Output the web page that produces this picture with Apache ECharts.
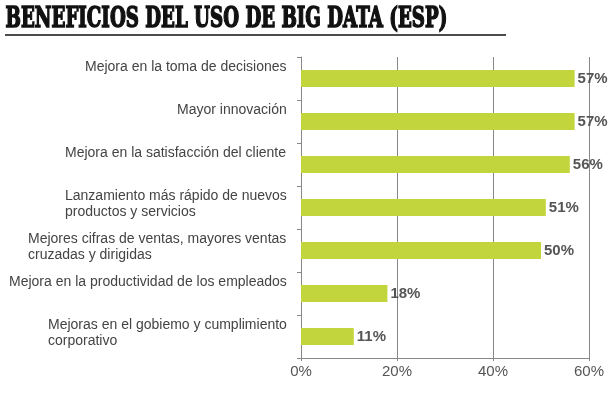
<!DOCTYPE html>
<html><head><meta charset="utf-8">
<script src="https://cdn.jsdelivr.net/npm/echarts@6/dist/echarts.min.js"></script>
<style>html,body{margin:0;padding:0;background:#fff}#c{width:614px;height:395px}</style>
</head><body><div id="c"></div>
<script>
const titleText = 'BENEFICIOS DEL USO DE BIG DATA (ESP)';
const categories = [
  'Mejora en la toma de decisiones',
  'Mayor innovación',
  'Mejora en la satisfacción del cliente',
  'Lanzamiento más rápido de nuevos\nproductos y servicios',
  'Mejores cifras de ventas, mayores ventas\ncruzadas y dirigidas',
  'Mejora en la productividad de los empleados',
  'Mejoras en el gobiemo y cumplimiento\ncorporativo'
];
const values = [57, 57, 56, 51, 50, 18, 11];
const xTicks = [0, 20, 40, 60];

const labelFont = '14px "Liberation Sans", Arial';
const ctx = document.createElement('canvas').getContext('2d');
ctx.font = labelFont;
const rich = {};
categories.forEach((c, i) => {
  const w = Math.max(...c.split('\n').map(s => ctx.measureText(s).width));
  rich['w' + i] = {width: Math.ceil(w) + 1, align: 'left', color: '#444', fontSize: 14,
    fontFamily: 'Liberation Sans, Arial', lineHeight: 16};
});

const chart = echarts.init(document.getElementById('c'), null, {renderer: 'canvas'});
chart.setOption({
  animation: false,
  graphic: [
    {type: 'text', left: 5, top: 6, scaleX: 0.675,
      style: {text: titleText, font: 'bold 27px "DejaVu Serif"', fill: '#111', stroke: '#111', lineWidth: 1.6}},
    {type: 'line', shape: {x1: 5, y1: 35, x2: 506, y2: 35}, style: {stroke: '#111', lineWidth: 1.5}}
  ],
  grid: {left: 301, right: 25, top: 57, bottom: 37},
  xAxis: {
    type: 'value', min: xTicks[0], max: xTicks[xTicks.length - 1], interval: 20,
    axisLine: {show: true, lineStyle: {color: '#888'}},
    axisTick: {show: true, length: 3, lineStyle: {color: '#888'}},
    splitLine: {show: true, lineStyle: {color: '#888', width: 1}},
    axisLabel: {formatter: '{value}%', color: '#555', fontSize: 15, fontFamily: 'Liberation Sans, Arial', margin: 6}
  },
  yAxis: {
    type: 'category', inverse: true, data: categories,
    axisLine: {show: true, lineStyle: {color: '#888'}},
    axisTick: {show: true, length: 4, lineStyle: {color: '#888'}},
    axisLabel: {
      color: '#444', fontSize: 14, fontFamily: 'Liberation Sans, Arial', lineHeight: 16,
      margin: 13, verticalAlign: 'top', padding: [-19, 0, 0, 0], align: 'right',
      formatter: (v, i) => v.split('\n').map(s => '{w' + i + '|' + s + '}').join('\n'),
      rich: rich
    }
  },
  series: [{
    type: 'bar', data: values, barWidth: 17,
    itemStyle: {color: '#c3d53c'},
    label: {
      show: true, position: 'right', distance: 3, formatter: '{c}%',
      color: '#555', fontWeight: 'bold', fontSize: 15, fontFamily: 'Liberation Sans, Arial'
    }
  }]
});
</script></body></html>
